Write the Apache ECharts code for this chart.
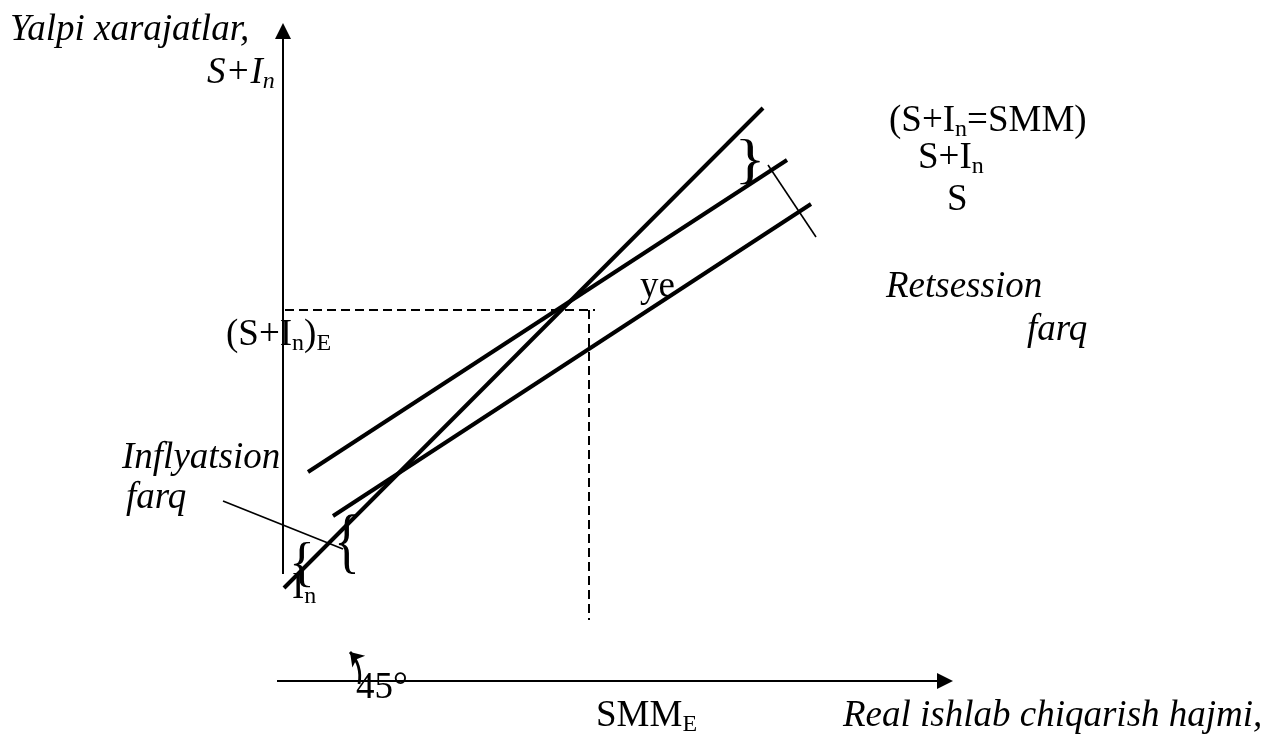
<!DOCTYPE html>
<html>
<head>
<meta charset="utf-8">
<script src="https://cdn.jsdelivr.net/npm/echarts@6/dist/echarts.min.js"></script>
<style>
  html, body { margin: 0; padding: 0; background: #fff; }
  #chart { width: 1271px; height: 735px; }
</style>
</head>
<body>
<div id="chart"></div>
<script>
// diagram drawn on a 1271 x 735 value grid (y runs downward)
var axisYLine = [[283, 574], [283, 31]];
var axisXLine = [[277, 681], [945, 681]];
var line45 = [[284, 588], [763, 108]];
var lineSIn = [[308, 472], [787, 160]];
var lineS = [[333, 516], [811, 204]];
var dashEqH = [[285, 310], [595, 310]];
var dashEqV = [[589, 310], [589, 620]];
var gapRecession = [[768, 165], [816, 237]];
var pointerInflation = [[223, 501], [343, 549]];
var arrow45 = [[359, 684], [350, 652]];

var FONT = '"Liberation Serif", "Times New Roman", serif';

var myChart = echarts.init(document.getElementById('chart'));

function seg(c) {
  return { coords: c };
}

// text with subscripts, top-left anchored
function label(x, y, text, italic) {
  var st = italic ? 'italic' : 'normal';
  return {
    type: 'text',
    x: x,
    y: y,
    silent: true,
    style: {
      text: text,
      verticalAlign: 'top',
      rich: {
        m: { fontFamily: FONT, fontSize: 37, fontStyle: st, lineHeight: 41, fill: '#000' },
        s: { fontFamily: FONT, fontSize: 24, fontStyle: 'normal', lineHeight: 24, verticalAlign: 'bottom', fill: '#000' },
        si: { fontFamily: FONT, fontSize: 24, fontStyle: 'italic', lineHeight: 24, verticalAlign: 'bottom', fill: '#000' }
      }
    }
  };
}

function brace(cx, cy, ch, size, sx, sy) {
  return {
    type: 'text',
    x: cx,
    y: cy,
    scaleX: sx,
    scaleY: sy,
    silent: true,
    style: {
      text: ch,
      fontFamily: FONT,
      fontSize: size,
      fill: '#000',
      align: 'center',
      verticalAlign: 'middle'
    }
  };
}

var option = {
  animation: false,
  grid: { left: 0, right: 0, top: 0, bottom: 0 },
  xAxis: { type: 'value', min: 0, max: 1271, show: false },
  yAxis: { type: 'value', min: 0, max: 735, inverse: true, show: false },
  series: [{
    type: 'lines',
    coordinateSystem: 'cartesian2d',
    silent: true,
    symbol: ['none', 'triangle'],
    symbolSize: [15, 16],
    lineStyle: { color: '#000', width: 2, opacity: 1 },
    data: [seg(axisYLine), seg(axisXLine)]
  }, {
    type: 'lines',
    coordinateSystem: 'cartesian2d',
    silent: true,
    lineStyle: { color: '#000', width: 4, opacity: 1 },
    data: [seg(line45), seg(lineSIn), seg(lineS)]
  }, {
    type: 'lines',
    coordinateSystem: 'cartesian2d',
    silent: true,
    lineStyle: { color: '#000', width: 2, type: [9, 5], opacity: 1 },
    data: [seg(dashEqH), seg(dashEqV)]
  }, {
    type: 'lines',
    coordinateSystem: 'cartesian2d',
    silent: true,
    lineStyle: { color: '#000', width: 1.6, opacity: 1 },
    data: [seg(gapRecession), seg(pointerInflation)]
  }, {
    type: 'lines',
    coordinateSystem: 'cartesian2d',
    silent: true,
    symbol: ['none', 'arrow'],
    symbolSize: 13,
    lineStyle: { color: '#000', width: 2.8, curveness: -0.25, opacity: 1 },
    data: [seg(arrow45)]
  }],
  graphic: [
    label(10, 10, '{m|Yalpi xarajatlar,}', true),
    label(207, 53, '{m|S+I}{si|n}', true),
    label(889, 101, '{m|(S+I}{s|n}{m|=SMM)}', false),
    label(918, 138, '{m|S+I}{s|n}', false),
    label(947, 180, '{m|S}', false),
    label(640, 267, '{m|ye}', false),
    label(886, 267, '{m|Retsession}', true),
    label(1027, 310, '{m|farq}', true),
    label(226, 315, '{m|(S+I}{s|n}{m|)}{s|E}', false),
    label(122, 438, '{m|Inflyatsion}', true),
    label(126, 478, '{m|farq}', true),
    label(292, 568, '{m|I}{s|n}', false),
    label(356, 668, '{m|45°}', false),
    label(596, 696, '{m|SMM}{s|E}', false),
    label(843, 696, '{m|Real ishlab chiqarish hajmi,}', true),
    brace(750, 163, '}', 54, 1.2, 1),
    brace(302, 566, '{', 54, 1, 1),
    brace(347, 545, '{', 54, 1, 1.35)
  ]
};

myChart.setOption(option);
</script>
</body>
</html>
